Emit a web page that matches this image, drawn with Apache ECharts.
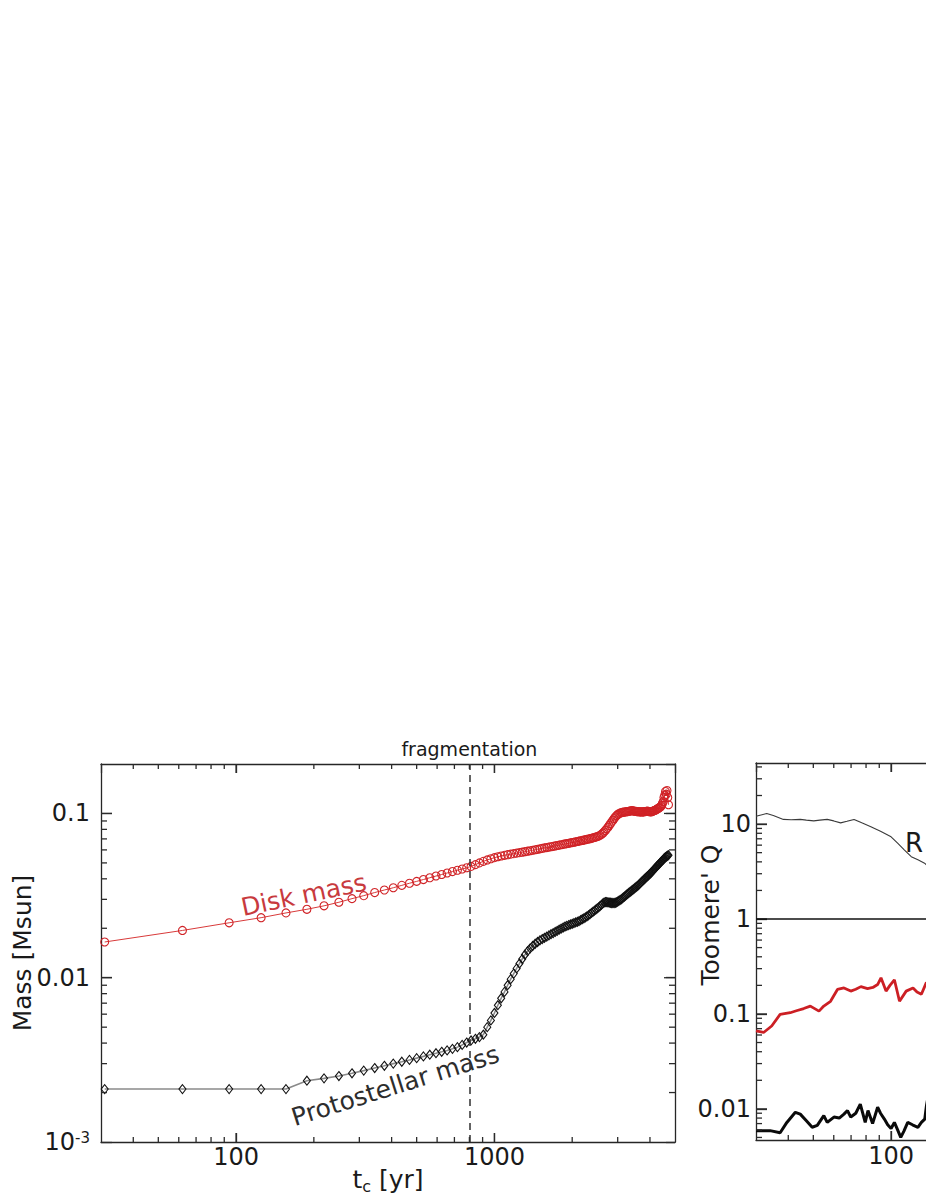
<!DOCTYPE html>
<html><head><meta charset="utf-8">
<script src="https://cdn.jsdelivr.net/npm/echarts@6/dist/echarts.min.js"></script>
<style>html,body{margin:0;padding:0;background:#fff}#c{width:926px;height:1199px}</style>
</head><body><div id="c"></div>
<script>
// ---------- data ----------
const times = [
31,62,94,125,156,188,219,250,281,312,344,375,406,438,469,500,
531,562,594,625,656,688,719,750,781,812,844,875,906,938,969,1000,
1031,1062,1094,1125,1156,1188,1219,1250,1281,1312,1344,1375,1406,1438,1469,1500,
1531,1562,1594,1625,1656,1688,1719,1750,1781,1812,1844,1875,1906,1938,1969,2000,
2031,2062,2094,2125,2156,2188,2219,2250,2281,2312,2344,2375,2406,2438,2469,2500,
2531,2562,2594,2625,2656,2688,2719,2750,2781,2812,2844,2875,2906,2938,2969,3000,
3031,3062,3094,3125,3156,3188,3219,3250,3281,3312,3344,3375,3406,3438,3469,3500,
3531,3562,3594,3625,3656,3688,3719,3750,3781,3812,3844,3875,3906,3938,3969,4000,
4031,4062,4094,4125,4156,4188,4219,4250,4281,4312,4344,4375,4406,4438,4469,4500,
4531,4562,4594,4625,4656,4688,4719];
const diskMass = [
0.0165,0.0194,0.0216,0.0232,0.0248,0.0261,0.0274,0.0288,
0.0303,0.0316,0.0330,0.0342,0.0353,0.0365,0.0376,0.0386,
0.0396,0.0406,0.0416,0.0425,0.0434,0.0443,0.0451,0.0459,
0.0467,0.0476,0.0488,0.0500,0.0511,0.0521,0.0530,0.0538,
0.0545,0.0551,0.0556,0.0561,0.0565,0.0569,0.0573,0.0577,
0.0581,0.0585,0.0589,0.0593,0.0597,0.0601,0.0605,0.0609,
0.0613,0.0617,0.0620,0.0624,0.0627,0.0631,0.0634,0.0638,
0.0641,0.0645,0.0648,0.0652,0.0655,0.0658,0.0662,0.0665,
0.0668,0.0672,0.0675,0.0678,0.0682,0.0685,0.0688,0.0692,
0.0695,0.0699,0.0702,0.0706,0.0710,0.0714,0.0719,0.0724,
0.0728,0.0736,0.0746,0.0758,0.0772,0.0788,0.0806,0.0825,
0.0845,0.0866,0.0888,0.0910,0.0932,0.0952,0.0970,0.0985,
0.0996,0.1004,0.1010,0.1014,0.1018,0.1020,0.1023,0.1025,
0.1027,0.1030,0.1034,0.1038,0.1040,0.1037,0.1034,0.1031,
0.1029,0.1027,0.1025,0.1024,0.1023,0.1022,0.1021,0.1022,
0.1023,0.1025,0.1028,0.1030,0.1032,0.1030,0.1027,0.1024,
0.1022,0.1025,0.1030,0.1036,0.1040,0.1045,0.1052,0.1060,
0.1068,0.1075,0.1083,0.1092,0.1105,0.1120,0.1150,0.1180,
0.1250,0.1290,0.1360,0.1310,0.1380,0.1250,0.1130];
const protoMass = [
0.0021,0.0021,0.0021,0.0021,0.0021,0.00236,0.00244,0.00252,
0.00262,0.00272,0.00282,0.00291,0.00300,0.00308,0.00316,0.00324,
0.00332,0.00340,0.00347,0.00354,0.00361,0.00369,0.00378,0.00390,
0.00403,0.00415,0.00425,0.00435,0.0045,0.0050,0.0055,0.0061,
0.0068,0.0075,0.0082,0.0090,0.0098,0.0106,0.0114,0.0122,
0.0130,0.0138,0.0145,0.0151,0.0156,0.0161,0.0165,0.0169,
0.0172,0.0175,0.0178,0.0181,0.0184,0.0187,0.0190,0.0193,
0.0196,0.0199,0.0202,0.0205,0.0207,0.0209,0.0211,0.0213,
0.0215,0.0217,0.0219,0.0221,0.0224,0.0227,0.0230,0.0233,
0.0236,0.0240,0.0244,0.0248,0.0252,0.0256,0.0260,0.0264,
0.0268,0.0273,0.0278,0.0283,0.0287,0.0289,0.0289,0.0288,
0.0287,0.0286,0.0285,0.0285,0.0285,0.0286,0.0288,0.0291,
0.0294,0.0297,0.0300,0.0304,0.0308,0.0312,0.0316,0.0320,
0.0324,0.0328,0.0332,0.0336,0.0340,0.0344,0.0348,0.0352,
0.0356,0.0360,0.0364,0.0369,0.0374,0.0379,0.0384,0.0389,
0.0394,0.0399,0.0404,0.0409,0.0414,0.0419,0.0424,0.0429,
0.0434,0.0440,0.0446,0.0452,0.0458,0.0464,0.0470,0.0476,
0.0482,0.0488,0.0494,0.0500,0.0506,0.0512,0.0518,0.0524,
0.0530,0.0536,0.0541,0.0546,0.0550,0.0554,0.0557];
const fragmentationTime = 800;

// right panel (Toomere' Q)
const rTimes = [30,33,35,38.3,41,44.5,47,50.2,53,56.6,60,63.8,67.5,71.9,77,83.5,91,100,106,112.7,119.7,127,134.8,145];
const rQ     = [12.1,12.9,12.3,11.2,11.1,11.2,11.0,10.8,11.0,11.2,10.8,10.3,10.7,11.2,10.3,9.4,8.4,7.35,6.3,5.33,4.54,4.2,3.87,3.2];
const redTimes = [30,32.1,34.5,37.2,40.7,43,45.9,48.7,52.6,54.9,58.3,62.0,65.7,69.8,73,76.4,81.1,85,88.7,91.4,95.6,99,103,107.8,114.4,121.6,126,131,136.9,145];
const redQ     = [0.0662,0.0638,0.0746,0.099,0.103,0.108,0.114,0.121,0.107,0.121,0.136,0.181,0.188,0.174,0.182,0.194,0.185,0.19,0.204,0.24,0.174,0.2,0.229,0.136,0.174,0.188,0.17,0.161,0.214,0.2];
const blackTimes = [30,34,37.2,39.5,42.6,44.5,47,49.5,51.8,54.9,56.6,60.1,63,65.7,67.8,69.8,73,76,79.4,81.4,84.8,88.7,91,94.2,97,100,103,106,109,112,116,121,127,131,135,137,140];
const blackQ     = [0.0059,0.0059,0.0056,0.0072,0.0092,0.0088,0.0075,0.0064,0.0067,0.0085,0.0072,0.0082,0.0080,0.0088,0.0096,0.0082,0.0090,0.0112,0.0072,0.0096,0.0070,0.0104,0.0090,0.0078,0.0068,0.0062,0.0072,0.0060,0.0050,0.0058,0.0072,0.0068,0.0064,0.0072,0.0078,0.0107,0.0150];
const qLevel = 1;

// tick values
const xMajorTicks = [100,1000];
const xMinorTicks = [40,50,60,70,80,90,200,300,400,500,600,700,800,900,2000,3000,4000];
const massMajorTicks = [0.01,0.1];
const massMinorTicks = [0.002,0.003,0.004,0.005,0.006,0.007,0.008,0.009,0.02,0.03,0.04,0.05,0.06,0.07,0.08,0.09];
const qMajorTicks = [0.01,0.1,1,10];
const qMinorTicks = [0.005,0.006,0.007,0.008,0.009,0.02,0.03,0.04,0.05,0.06,0.07,0.08,0.09,0.2,0.3,0.4,0.5,0.6,0.7,0.8,0.9,2,3,4,5,6,7,8,9,20,30,40];

// ---------- chart ----------
const FONT = 'DejaVu Sans';
const TXT = '#1a1a1a';
const FRAME = '#262626';
const TICK = '#2b2b2b';
const RED = '#d02226';
const chart = echarts.init(document.getElementById('c'), null, {renderer:'svg'});

function logAxis(o) {
  return Object.assign({
    type:'log', logBase:10,
    axisLine:{show:true, onZero:false, lineStyle:{color:FRAME, width:1.3}},
    axisTick:{show:true, inside:true, length:9, lineStyle:{color:TICK, width:1.3}},
    splitLine:{show:false}, minorTick:{show:false}, minorSplitLine:{show:false},
    axisLabel:{show:false}
  }, o);
}
const labelBase = {color:TXT, fontFamily:FONT, fontSize:24};

// tick marks placed through the axes' own scales (api.coord)
function xTickRender(len) {
  return function(params, api) {
    const cs = params.coordSys;
    const x = api.coord([api.value(0), api.value(1)])[0];
    const yb = cs.y + cs.height, yt = cs.y;
    return {type:'group', children:[
      {type:'line', shape:{x1:x, y1:yb, x2:x, y2:yb-len}, style:{stroke:TICK, lineWidth:1.3}},
      {type:'line', shape:{x1:x, y1:yt, x2:x, y2:yt+len}, style:{stroke:TICK, lineWidth:1.3}}
    ]};
  };
}
function yTickRender(len) {
  return function(params, api) {
    const cs = params.coordSys;
    const y = api.coord([api.value(0), api.value(1)])[1];
    const xl = cs.x, xr = cs.x + cs.width;
    return {type:'group', children:[
      {type:'line', shape:{x1:xl, y1:y, x2:xl+len, y2:y}, style:{stroke:TICK, lineWidth:1.3}},
      {type:'line', shape:{x1:xr, y1:y, x2:xr-len, y2:y}, style:{stroke:TICK, lineWidth:1.3}}
    ]};
  };
}
function tickSeries(xi, yi, render, data) {
  return {type:'custom', xAxisIndex:xi, yAxisIndex:yi, silent:true, renderItem:render, data:data, z:4};
}

const option = {
  animation:false,
  backgroundColor:'#ffffff',
  grid:[
    {left:101, top:764, width:574, height:378, outerBoundsMode:'none', containLabel:false},
    {left:756, top:763, width:574, height:377, outerBoundsMode:'none', containLabel:false}
  ],
  xAxis:[
    logAxis({gridIndex:0, position:'bottom', min:30, max:5000,
      axisLabel:Object.assign({show:true, margin:3, showMinLabel:false, showMaxLabel:false,
        formatter:v=>String(v)}, labelBase),
      name:'t{sub|c} [yr]', nameLocation:'middle', nameGap:22, nameMoveOverlap:false,
      nameTextStyle:{color:TXT, fontFamily:FONT, fontSize:25,
        rich:{sub:{fontFamily:FONT, fontSize:16, color:TXT, verticalAlign:'bottom', lineHeight:30}}}
    }),
    logAxis({gridIndex:0, position:'top', min:30, max:5000}),
    logAxis({gridIndex:1, position:'bottom', min:30, max:5000,
      axisLabel:Object.assign({show:true, margin:4, showMinLabel:false, showMaxLabel:false,
        formatter:v=>String(v)}, labelBase)}),
    logAxis({gridIndex:1, position:'top', min:30, max:5000})
  ],
  yAxis:[
    logAxis({gridIndex:0, position:'left', min:0.001, max:0.2,
      axisTick:{show:true, inside:true, length:11, lineStyle:{color:TICK, width:1.3}},
      axisLabel:Object.assign({show:true, margin:11, showMinLabel:true, showMaxLabel:false,
        formatter:v=> (Math.abs(v-0.001)<1e-9 ? '10{sup|-3}' : String(v)),
        rich:{sup:{fontFamily:FONT, fontSize:15, color:TXT, verticalAlign:'top', lineHeight:14}}}, labelBase),
      name:'Mass [Msun]', nameLocation:'middle', nameGap:66, nameRotate:90, nameMoveOverlap:false,
      nameTextStyle:{color:TXT, fontFamily:FONT, fontSize:25}
    }),
    logAxis({gridIndex:0, position:'right', min:0.001, max:0.2}),
    logAxis({gridIndex:1, position:'left', min:0.0047, max:44,
      axisTick:{show:true, inside:true, length:11, lineStyle:{color:TICK, width:1.3}},
      axisLabel:Object.assign({show:true, margin:5, showMinLabel:false, showMaxLabel:false,
        formatter:v=>String(v)}, labelBase)})
  ],
  series:[
    {
      name:'Disk mass', type:'line', xAxisIndex:0, yAxisIndex:0,
      data: times.map((t,i)=>[t, diskMass[i]]),
      showSymbol:true, showAllSymbol:true, symbol:'circle', symbolSize:8,
      itemStyle:{color:'rgba(255,255,255,0)', borderColor:RED, borderWidth:1.1},
      lineStyle:{color:'#d83a3a', width:1},
      z:3,
      markLine:{
        silent:true, symbol:['none','none'],
        lineStyle:{color:'#303030', width:1.5, type:[7,5]},
        label:{show:true, position:'end', distance:6, formatter:'fragmentation',
          color:TXT, fontFamily:FONT, fontSize:19},
        data:[{xAxis:fragmentationTime}]
      }
    },
    {
      name:'Protostellar mass', type:'line', xAxisIndex:0, yAxisIndex:0,
      data: times.map((t,i)=>[t, protoMass[i]]),
      showSymbol:true, showAllSymbol:true, symbol:'diamond', symbolSize:[7,9],
      itemStyle:{color:'rgba(255,255,255,0)', borderColor:'#111111', borderWidth:1.1},
      lineStyle:{color:'#8a8a8a', width:1.6},
      z:3
    },
    {
      name:'R', type:'line', xAxisIndex:2, yAxisIndex:2,
      data: rTimes.map((t,i)=>[t, rQ[i]]), showSymbol:false,
      lineStyle:{color:'#3a3a3a', width:1.1},
      markLine:{silent:true, symbol:['none','none'], label:{show:false},
        lineStyle:{color:'#111111', width:1.6, type:'solid'}, data:[{yAxis:qLevel}]}
    },
    {
      name:'red', type:'line', xAxisIndex:2, yAxisIndex:2,
      data: redTimes.map((t,i)=>[t, redQ[i]]), showSymbol:false,
      lineStyle:{color:'#cc1f24', width:2.8}
    },
    {
      name:'black', type:'line', xAxisIndex:2, yAxisIndex:2,
      data: blackTimes.map((t,i)=>[t, blackQ[i]]), showSymbol:false,
      lineStyle:{color:'#0a0a0a', width:3}
    },
    tickSeries(0, 0, xTickRender(9), xMajorTicks.map(v=>[v, 0.01])),
    tickSeries(0, 0, xTickRender(5), xMinorTicks.map(v=>[v, 0.01])),
    tickSeries(0, 0, yTickRender(11), massMajorTicks.map(v=>[100, v])),
    tickSeries(0, 0, yTickRender(6), massMinorTicks.map(v=>[100, v])),
    tickSeries(2, 2, xTickRender(9), xMajorTicks.map(v=>[v, 1])),
    tickSeries(2, 2, xTickRender(5), xMinorTicks.map(v=>[v, 1])),
    tickSeries(2, 2, yTickRender(11), qMajorTicks.map(v=>[100, v])),
    tickSeries(2, 2, yTickRender(6), qMinorTicks.map(v=>[100, v]))
  ],
  graphic:[
    {type:'text', x:244, y:920, rotation:0.205, silent:true,
      style:{text:'Disk mass', fontFamily:FONT, fontSize:25, fill:'#c83a3e', align:'left', verticalAlign:'bottom'}},
    {type:'text', x:296, y:1130, rotation:0.305, silent:true,
      style:{text:'Protostellar mass', fontFamily:FONT, fontSize:25, fill:'#2d2d2d', align:'left', verticalAlign:'bottom'}},
    {type:'text', x:914, y:843, silent:true,
      style:{text:'R', fontFamily:FONT, fontSize:26, fill:TXT, align:'center', verticalAlign:'middle'}},
    {type:'text', x:710, y:915, rotation:Math.PI/2, silent:true,
      style:{text:"Toomere' Q", fontFamily:FONT, fontSize:25, fill:TXT, align:'center', verticalAlign:'middle'}}
  ]
};
chart.setOption(option);
</script></body></html>
